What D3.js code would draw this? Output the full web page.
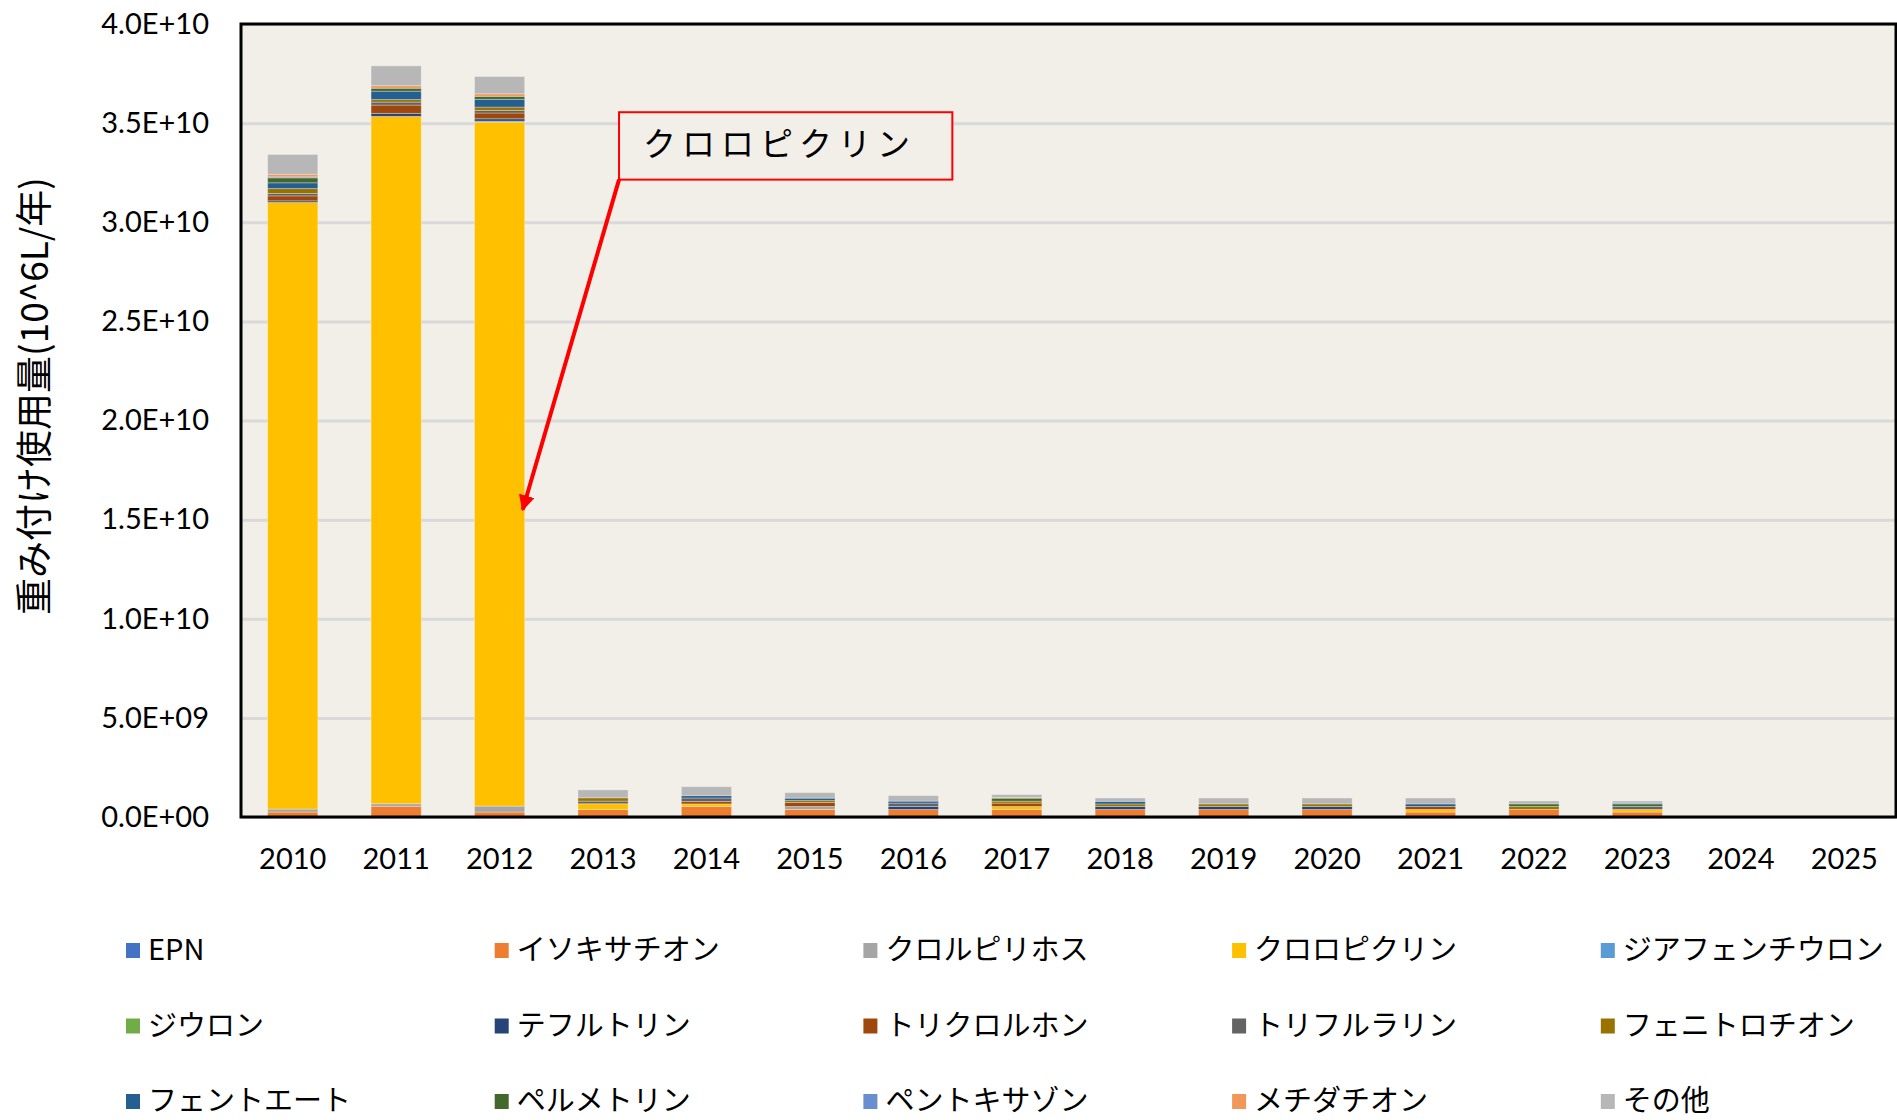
<!DOCTYPE html>
<html lang="ja">
<head>
    <meta charset="UTF-8">
    <title>重み付け使用量</title>
    <style>
        body { margin: 0; background: #fff; }
        svg { display: block; }
        .tick text { font-family: Lato, "Open Sans", sans-serif; fill: #000; }
    </style>
</head>
<body>
    <div id="graphic"></div>

    <script src="https://cdn.jsdelivr.net/npm/d3@7"></script>
    <script>
        var years = ['2010','2011','2012','2013','2014','2015','2016','2017','2018','2019','2020','2021','2022','2023','2024','2025'];
        var yTicks = [0, 5e9, 1e10, 1.5e10, 2e10, 2.5e10, 3e10, 3.5e10, 4e10];

        var seriesNames = ['EPN','イソキサチオン','クロルピリホス','クロロピクリン','ジアフェンチウロン',
                           'ジウロン','テフルトリン','トリクロルホン','トリフルラリン','フェニトロチオン',
                           'フェントエート','ペルメトリン','ペントキサゾン','メチダチオン','その他'];
        var seriesColors = ['#4472C4','#ED7D31','#A5A5A5','#FFC000','#5B9BD5',
                            '#70AD47','#264478','#9E480E','#636363','#997300',
                            '#255E91','#43682B','#698ED0','#F1975A','#B7B7B7'];

        // values per series, one per year (2010 .. 2025)
        var epn            = [0, 0, 0, 0, 0, 0, 0, 0, 0, 0, 0, 0, 0, 0, 0, 0];
        var isoxathion     = [2.5e8, 5.4e8, 2.5e8, 3.8e8, 5.3e8, 3.8e8, 3.8e8, 3.8e8, 3.8e8, 3.8e8, 3.8e8, 2.5e8, 3.8e8, 2.5e8, 0, 0];
        var chlorpyrifos   = [1.5e8, 1.3e8, 3.0e8, 0, 0, 1.5e8, 0, 0, 0, 0, 0, 0, 0, 0, 0, 0];
        var chloropicrin   = [3.06e10, 3.467e10, 3.45e10, 2.9e8, 1.3e8, 0, 0, 1.5e8, 0, 0, 0, 1.3e8, 0, 1.3e8, 0, 0];
        var diafenthiuron  = [0, 0, 5e7, 0, 0, 0, 0, 0, 0, 0, 0, 0, 0, 0, 0, 0];
        var diuron         = [0, 0, 0, 0, 0, 0, 0, 0, 0, 0, 0, 0, 0, 0, 0, 0];
        var tefluthrin     = [8e7, 1.5e8, 1.2e8, 0, 0, 0, 1.5e8, 0, 1.5e8, 1.5e8, 1.5e8, 0, 0, 0, 0, 0];
        var trichlorfon    = [2.5e8, 4.2e8, 2.9e8, 0, 1.2e8, 2.0e8, 0, 1.7e8, 0, 0, 0, 1.5e8, 0, 0, 0, 0];
        var trifluralin    = [1.2e8, 1.5e8, 1.3e8, 1.3e8, 1.8e8, 0, 1.7e8, 0, 0, 0, 0, 0, 0, 1.5e8, 0, 0];
        var fenitrothion   = [2.5e8, 1.3e8, 1.7e8, 1.7e8, 0, 1.0e8, 0, 1.0e8, 1.3e8, 1.3e8, 1.3e8, 0, 1.5e8, 0, 0, 0];
        var phenthoate     = [2.9e8, 4.2e8, 3.9e8, 0, 1.2e8, 1.2e8, 1.0e8, 0, 1.3e8, 0, 0, 1.3e8, 0, 0, 0, 0];
        var permethrin     = [2.5e8, 1.5e8, 1.5e8, 0, 0, 0, 0, 1.5e8, 0, 0, 0, 0, 1.3e8, 1.3e8, 0, 0];
        var pentoxazone    = [5e7, 0, 0, 0, 0, 0, 0, 0, 0, 0, 0, 0, 0, 5e7, 0, 0];
        var methidathion   = [1.3e8, 1.3e8, 1.3e8, 0, 0, 0, 0, 3e7, 0, 0, 0, 0, 0, 0, 0, 0];
        var others         = [1.0e9, 1.0e9, 8.7e8, 4.0e8, 4.5e8, 2.8e8, 2.8e8, 1.5e8, 1.7e8, 3.0e8, 3.0e8, 3.0e8, 1.5e8, 1.0e8, 0, 0];

        var seriesValues = [epn, isoxathion, chlorpyrifos, chloropicrin, diafenthiuron,
                            diuron, tefluthrin, trichlorfon, trifluralin, fenitrothion,
                            phenthoate, permethrin, pentoxazone, methidathion, others];

        var width = 1897;
        var height = 1120;
        var plot = {left: 241, top: 24, right: 1896, bottom: 817};

        // table for d3.stack
        var table = years.map(function(yr, i) {
            var row = {year: yr};
            seriesNames.forEach(function(name, s) { row[name] = seriesValues[s][i]; });
            return row;
        });

        var svg = d3.select('#graphic')
            .append('svg')
            .attr('width', width)
            .attr('height', height);

        var x = d3.scaleBand()
            .domain(years)
            .range([plot.left, plot.right])
            .paddingInner(0.515)
            .paddingOuter(0.2575);

        var y = d3.scaleLinear()
            .domain([0, 4e10])
            .range([plot.bottom, plot.top]);

        function sciFormat(v) {
            var parts = d3.format('.1e')(v).split('e');
            var sign = parts[1][0];
            var exp = parts[1].slice(1);
            if (exp.length < 2) exp = '0' + exp;
            return parts[0] + 'E' + sign + exp;
        }

        // plot background
        svg.append('rect')
            .attr('x', plot.left)
            .attr('y', plot.top)
            .attr('width', plot.right - plot.left)
            .attr('height', plot.bottom - plot.top)
            .attr('fill', '#F2EFE9');

        // gridlines + y labels
        var yAxis = svg.append('g')
            .attr('transform', 'translate(' + plot.left + ',0)')
            .call(d3.axisLeft(y)
                .tickValues(yTicks)
                .tickFormat(sciFormat)
                .tickSize(-(plot.right - plot.left))
                .tickPadding(32));
        yAxis.select('.domain').remove();
        yAxis.selectAll('.tick line')
            .attr('stroke', '#D9D9D9')
            .attr('stroke-width', 3);
        yAxis.selectAll('.tick text')
            .attr('font-size', 29);

        // stacked bars
        var stacked = d3.stack().keys(seriesNames)(table);

        svg.append('g')
            .selectAll('g')
            .data(stacked)
            .join('g')
            .attr('fill', function(d, i) { return seriesColors[i]; })
            .selectAll('rect')
            .data(function(d) { return d; })
            .join('rect')
            .attr('x', function(d) { return x(d.data.year); })
            .attr('y', function(d) { return y(d[1]); })
            .attr('width', x.bandwidth())
            .attr('height', function(d) { return y(d[0]) - y(d[1]); })
            .attr('stroke', '#ffffff')
            .attr('stroke-opacity', function(d) { return d[1] - d[0] > 0 ? 0.3 : 0; })
            .attr('stroke-width', 1);

        // plot border
        svg.append('rect')
            .attr('x', plot.left)
            .attr('y', plot.top)
            .attr('width', plot.right - plot.left)
            .attr('height', plot.bottom - plot.top)
            .attr('fill', 'none')
            .attr('stroke', '#000')
            .attr('stroke-width', 3);

        // x labels
        var xAxis = svg.append('g')
            .attr('transform', 'translate(0,' + plot.bottom + ')')
            .call(d3.axisBottom(x).tickSize(0).tickPadding(31));
        xAxis.select('.domain').remove();
        xAxis.selectAll('.tick text')
            .attr('font-size', 29);

        // y title
        svg.append('text')
            .attr('transform', 'translate(32,' + 396 + ') rotate(-90)')
            .attr('text-anchor', 'middle')
            .attr('dominant-baseline', 'central')
            .attr('font-family', '"Noto Sans CJK JP", sans-serif')
            .attr('font-size', 37)
            .text('重み付け使用量(10^6L/年)');

        // annotation for chloropicrin
        svg.append('defs').append('marker')
            .attr('id', 'arrow')
            .attr('viewBox', '0 0 10 10')
            .attr('refX', 9)
            .attr('refY', 5)
            .attr('markerWidth', 4)
            .attr('markerHeight', 4)
            .attr('orient', 'auto')
            .append('path')
            .attr('d', 'M0,0 L10,5 L0,10 z')
            .attr('fill', '#FF0000');

        var boxLeft = x('2013') + x.bandwidth() / 2 + 16;
        var boxRight = x('2016') + x.bandwidth() / 2 + 39;
        var boxTop = y(3.555e10);
        var boxBottom = y(3.215e10);
        var tipX = x('2012') + x.bandwidth() - 2;
        var tipY = y(1.55e10);

        svg.append('line')
            .attr('x1', boxLeft)
            .attr('y1', boxBottom)
            .attr('x2', tipX)
            .attr('y2', tipY)
            .attr('stroke', '#FF0000')
            .attr('stroke-width', 4)
            .attr('marker-end', 'url(#arrow)');

        svg.append('rect')
            .attr('x', boxLeft)
            .attr('y', boxTop)
            .attr('width', boxRight - boxLeft)
            .attr('height', boxBottom - boxTop)
            .attr('fill', '#F2EFE9')
            .attr('stroke', '#FF0000')
            .attr('stroke-width', 2);

        svg.append('text')
            .attr('x', boxLeft + 24)
            .attr('y', (boxTop + boxBottom) / 2 - 4)
            .attr('dominant-baseline', 'central')
            .attr('font-family', '"Noto Sans CJK JP", sans-serif')
            .attr('font-size', 33)
            .attr('letter-spacing', 6)
            .text('クロロピクリン');

        // legend, 5 columns x 3 rows
        var legend = svg.append('g')
            .selectAll('g')
            .data(seriesNames)
            .join('g')
            .attr('transform', function(d, i) {
                return 'translate(' + (126 + (i % 5) * 368.7) + ',' + (947 + Math.floor(i / 5) * 75.5) + ')';
            });

        legend.append('rect')
            .attr('x', 0)
            .attr('y', -4)
            .attr('width', 14)
            .attr('height', 15)
            .attr('fill', function(d, i) { return seriesColors[i]; });

        legend.append('text')
            .attr('x', 22)
            .attr('y', 0)
            .attr('dominant-baseline', 'central')
            .attr('font-family', '"Noto Sans CJK JP", sans-serif')
            .attr('font-size', 29)
            .text(function(d) { return d; });
    </script>
</body>
</html>
